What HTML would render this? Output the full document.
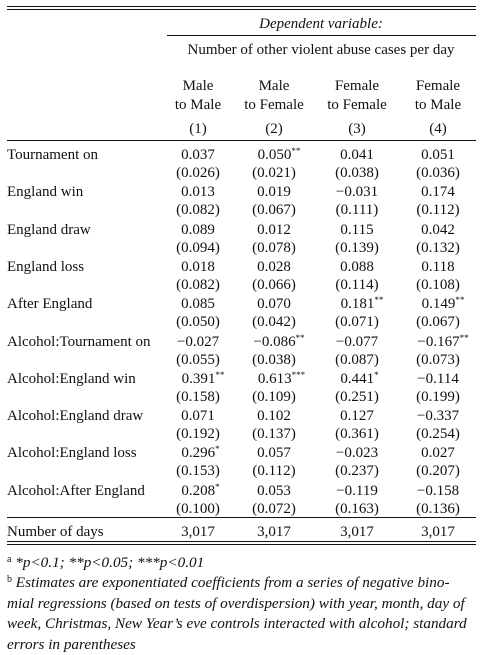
<!DOCTYPE html>
<html><head><meta charset="utf-8"><style>
body{margin:0;background:#fff;width:487px;height:654px;position:relative;font-family:"Liberation Serif",serif;font-size:15px;color:#111;overflow:hidden}
.t{position:absolute;white-space:nowrap;line-height:16px}
.c{transform:translateX(-50%);text-align:center}
.r{position:absolute;background:#111}
sup{font-size:9px;vertical-align:5px;line-height:0}
.fn{position:absolute;left:7px;width:480px;font-style:italic;line-height:20.5px;font-size:15.2px;white-space:nowrap}
.fn sup{font-size:10px;font-style:normal}
</style></head><body>
<div class="r" style="left:7px;top:6px;width:469px;height:1px"></div>
<div class="r" style="left:7px;top:9px;width:469px;height:1px"></div>
<div class="t c" style="left:321px;top:16px;font-style:italic">Dependent variable:</div>
<div class="r" style="left:167px;top:35px;width:309px;height:1px"></div>
<div class="t c" style="left:321px;top:42px">Number of other violent abuse cases per day</div>
<div id="hdr"></div>
<div class="r" style="left:7px;top:140px;width:469px;height:1px"></div>
<div id="body"></div>
<div class="r" style="left:7px;top:517px;width:469px;height:1px"></div>
<div class="t" style="left:7px;top:524px">Number of days</div>
<div id="days"></div>
<div class="r" style="left:7px;top:541px;width:469px;height:1px"></div>
<div class="r" style="left:7px;top:544px;width:469px;height:1px"></div>
<div class="fn" style="top:553px"><sup>a</sup> *p&lt;0.1; **p&lt;0.05; ***p&lt;0.01</div>
<div class="fn" style="top:573px"><sup>b</sup> Estimates are exponentiated coefficients from a series of negative bino-<br>mial regressions (based on tests of overdispersion) with year, month, day of<br>week, Christmas, New Year’s eve controls interacted with alcohol; standard<br>errors in parentheses</div>
<script>
const colX=[198,274,357,438];
const heads1=["Male","Male","Female","Female"];
const heads2=["to Male","to Female","to Female","to Male"];
const rows=["Tournament on","England win","England draw","England loss","After England","Alcohol:Tournament on","Alcohol:England win","Alcohol:England draw","Alcohol:England loss","Alcohol:After England"];
const coefs=[["0.037","0.050**","0.041","0.051"],["0.013","0.019","−0.031","0.174"],["0.089","0.012","0.115","0.042"],["0.018","0.028","0.088","0.118"],["0.085","0.070","0.181**","0.149**"],["−0.027","−0.086**","−0.077","−0.167**"],["0.391**","0.613***","0.441*","−0.114"],["0.071","0.102","0.127","−0.337"],["0.296*","0.057","−0.023","0.027"],["0.208*","0.053","−0.119","−0.158"]];
const ses=[["0.026","0.021","0.038","0.036"],["0.082","0.067","0.111","0.112"],["0.094","0.078","0.139","0.132"],["0.082","0.066","0.114","0.108"],["0.050","0.042","0.071","0.067"],["0.055","0.038","0.087","0.073"],["0.158","0.109","0.251","0.199"],["0.192","0.137","0.361","0.254"],["0.153","0.112","0.237","0.207"],["0.100","0.072","0.163","0.136"]];
const days=["3,017","3,017","3,017","3,017"];
function mk(parent,cls,left,top,html,name){const d=document.createElement('div');d.className=cls;d.style.left=left+'px';d.style.top=top+'px';d.innerHTML=html;


parent.appendChild(d);return d;}
const H=document.getElementById('hdr'),B=document.getElementById('body'),D=document.getElementById('days');
colX.forEach((x,i)=>{mk(H,'t c',x,78,heads1[i],'col-head-'+(i+1));mk(H,'t c',x,97,heads2[i],'col-sub-'+(i+1));mk(H,'t c',x,121,'('+(i+1)+')','col-num-'+(i+1));
mk(D,'t c',x,524,days[i],'days-'+(i+1));});
function fmt(v){const m=v.match(/^([^*]*)(\**)$/);return m[1]+(m[2]?'<sup>'+m[2]+'</sup>':'');}
rows.forEach((r,j)=>{const y=147+j*37.3;mk(B,'t',7,y,r,'row-label-'+j);
colX.forEach((x,i)=>{const s=coefs[j][i];const star=(s.match(/\*+$/)||[''])[0];
const d=mk(B,'t',x,y,fmt(s),'coef-'+j+'-'+(i+1));d.style.transform='translateX(calc(-50% + '+(star.length*2.5)+'px))';
mk(B,'t c',x,y+18,'('+ses[j][i]+')','se-'+j+'-'+(i+1));});});
</script>
</body></html>
